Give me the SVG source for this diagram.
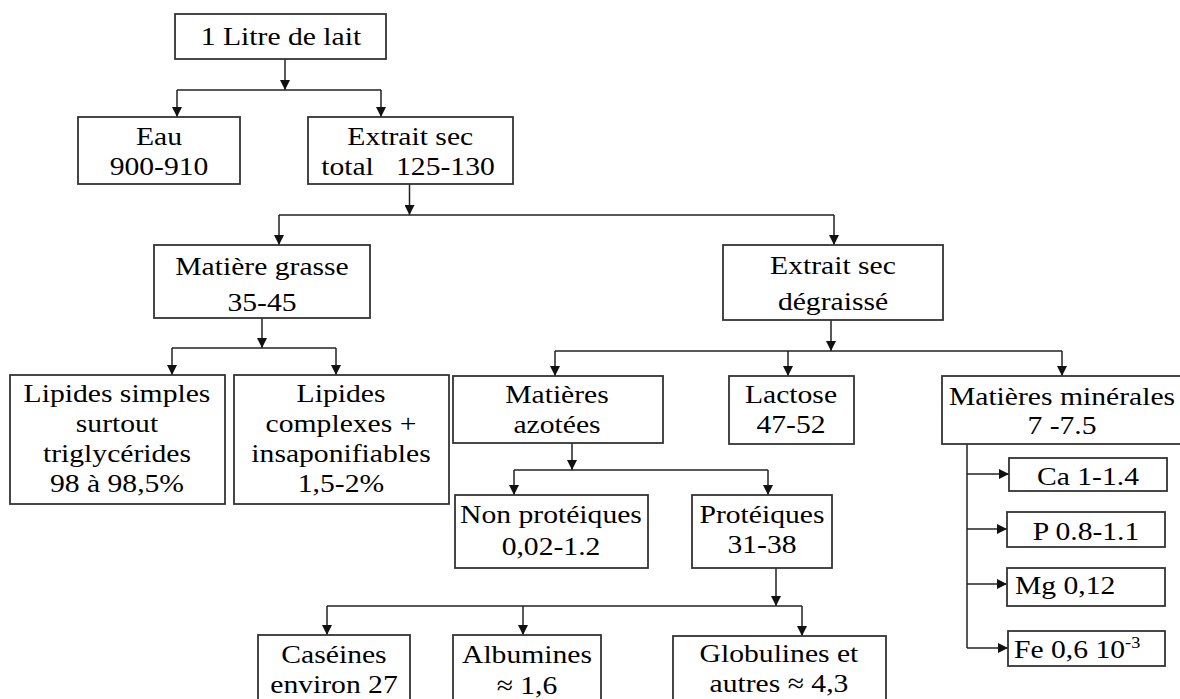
<svg xmlns="http://www.w3.org/2000/svg" width="1180" height="699" viewBox="0 0 1180 699">
<defs>
<style>
.box{fill:#fff;stroke:#333;stroke-width:1.8}
.ln{fill:none;stroke:#222;stroke-width:1.5}
.ar{fill:none;stroke:#222;stroke-width:1.5;marker-end:url(#ah)}
.t{font-family:"Liberation Serif","Times New Roman",serif;font-size:26px;fill:#000;text-anchor:middle;transform-box:fill-box;transform-origin:center;transform:scaleX(1.14)}
.l{text-anchor:start;transform-origin:0% 50%}
</style>
<marker id="ah" viewBox="0 0 10 10" refX="10" refY="5" markerWidth="10" markerHeight="10" markerUnits="userSpaceOnUse" orient="auto">
<path d="M0,0 L10,5 L0,10 z" fill="#111"/>
</marker>
</defs>
<rect width="1180" height="699" fill="#fff"/>
<g id="connectors">
<path class="ar" d="M285,59 V90"/>
<path class="ln" d="M177,90 H381"/>
<path class="ar" d="M177,90 V117"/>
<path class="ar" d="M381,90 V117"/>
<path class="ar" d="M409.5,184 V215"/>
<path class="ln" d="M279,215 H834"/>
<path class="ar" d="M279,215 V245"/>
<path class="ar" d="M834,215 V245"/>
<path class="ar" d="M262,318 V348"/>
<path class="ln" d="M172,348 H336"/>
<path class="ar" d="M172,348 V375"/>
<path class="ar" d="M336,348 V375"/>
<path class="ar" d="M831,320 V351"/>
<path class="ln" d="M555,351 H1062"/>
<path class="ar" d="M555,351 V376"/>
<path class="ar" d="M788,351 V376"/>
<path class="ar" d="M1062,351 V376"/>
<path class="ar" d="M572,443 V470"/>
<path class="ln" d="M514,470 H768"/>
<path class="ar" d="M514,470 V495"/>
<path class="ar" d="M768,470 V495"/>
<path class="ar" d="M776,568 V606"/>
<path class="ln" d="M327,606 H802"/>
<path class="ar" d="M327,606 V635"/>
<path class="ar" d="M523,606 V635"/>
<path class="ar" d="M802,606 V636"/>
<path class="ln" d="M967,444 V648"/>
<path class="ar" d="M967,474 H1009"/>
<path class="ar" d="M967,529 H1007"/>
<path class="ar" d="M967,584 H1007"/>
<path class="ar" d="M967,648 H1008"/>
</g>
<g id="n-litre"><rect class="box" x="175" y="14" width="211" height="45"/><text class="t" x="281" y="45">1 Litre de lait</text></g>
<g id="n-eau"><rect class="box" x="78" y="117" width="162" height="67"/><text class="t" x="159" y="145"><tspan x="159">Eau</tspan><tspan x="159" y="175">900-910</tspan></text></g>
<g id="n-est"><rect class="box" x="308" y="117" width="205" height="67"/><text class="t" x="410" y="145" xml:space="preserve"><tspan x="410">Extrait sec</tspan><tspan x="408" y="175">total   125-130</tspan></text></g>
<g id="n-mg"><rect class="box" x="154" y="245" width="216" height="73"/><text class="t" x="262" y="275"><tspan x="262">Matière grasse</tspan><tspan x="262" y="311">35-45</tspan></text></g>
<g id="n-esd"><rect class="box" x="723" y="245" width="220" height="75"/><text class="t" x="833" y="274"><tspan x="833">Extrait sec</tspan><tspan x="833" y="310">dégraissé</tspan></text></g>
<g id="n-ls"><rect class="box" x="10" y="375" width="215" height="129"/><text class="t" x="117" y="402"><tspan x="117">Lipides simples</tspan><tspan x="117" y="432">surtout</tspan><tspan x="117" y="462">triglycérides</tspan><tspan x="117" y="492">98 à 98,5%</tspan></text></g>
<g id="n-lc"><rect class="box" x="234" y="375" width="215" height="129"/><text class="t" x="341" y="402"><tspan x="341">Lipides</tspan><tspan x="341" y="432">complexes +</tspan><tspan x="341" y="462">insaponifiables</tspan><tspan x="341" y="492">1,5-2%</tspan></text></g>
<g id="n-ma"><rect class="box" x="453" y="376" width="210" height="67"/><text class="t" x="557" y="403"><tspan x="557">Matières</tspan><tspan x="557" y="433">azotées</tspan></text></g>
<g id="n-lac"><rect class="box" x="729" y="376" width="125" height="68"/><text class="t" x="791" y="403"><tspan x="791">Lactose</tspan><tspan x="791" y="433">47-52</tspan></text></g>
<g id="n-mm"><rect class="box" x="942" y="376" width="250" height="68"/><text class="t" x="1062" y="405"><tspan x="1062">Matières minérales</tspan><tspan x="1062" y="434">7 -7.5</tspan></text></g>
<g id="n-np"><rect class="box" x="455" y="495" width="193" height="73"/><text class="t" x="551" y="523"><tspan x="551">Non protéiques</tspan><tspan x="551" y="555">0,02-1.2</tspan></text></g>
<g id="n-p"><rect class="box" x="692" y="495" width="140" height="73"/><text class="t" x="762" y="523"><tspan x="762">Protéiques</tspan><tspan x="762" y="553">31-38</tspan></text></g>
<g id="n-cas"><rect class="box" x="258" y="635" width="152" height="80"/><text class="t" x="334" y="663"><tspan x="334">Caséines</tspan><tspan x="334" y="693">environ 27</tspan></text></g>
<g id="n-alb"><rect class="box" x="453" y="635" width="148" height="80"/><text class="t" x="527" y="663"><tspan x="527">Albumines</tspan><tspan x="527" y="694">≈ 1,6</tspan></text></g>
<g id="n-glo"><rect class="box" x="673" y="636" width="213" height="80"/><text class="t" x="779" y="662"><tspan x="779">Globulines et</tspan><tspan x="779" y="692">autres ≈ 4,3</tspan></text></g>
<g id="n-ca"><rect class="box" x="1009" y="458" width="158" height="33"/><text class="t" x="1088" y="485">Ca 1-1.4</text></g>
<g id="n-pp"><rect class="box" x="1007" y="512" width="158" height="35"/><text class="t" x="1086" y="540">P 0.8-1.1</text></g>
<g id="n-mgm"><rect class="box" x="1007" y="568" width="158" height="38"/><text class="t l" x="1015" y="594">Mg 0,12</text></g>
<g id="n-fe"><rect class="box" x="1008" y="631" width="157" height="35"/><text class="t l" x="1014" y="658">Fe 0,6 10<tspan dy="-10" font-size="16">-3</tspan></text></g>
</svg>
